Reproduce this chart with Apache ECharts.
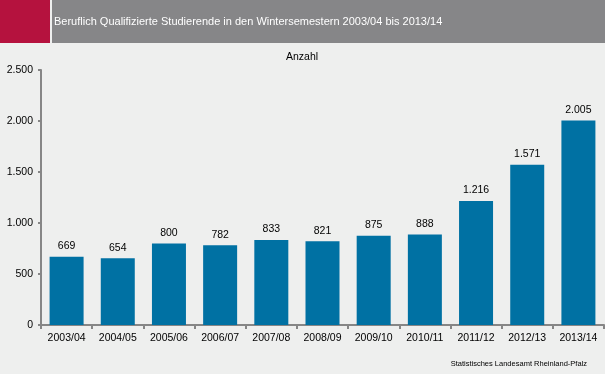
<!DOCTYPE html>
<html><head><meta charset="utf-8">
<script src="https://cdn.jsdelivr.net/npm/echarts@6/dist/echarts.min.js"></script>
<style>html,body{margin:0;padding:0;background:#eeefee;}#c{width:605px;height:374px;}</style>
</head><body><div id="c"></div>
<script>
const categories = ['2003/04','2004/05','2005/06','2006/07','2007/08','2008/09','2009/10','2010/11','2011/12','2012/13','2013/14'];
const values = [669,654,800,782,833,821,875,888,1216,1571,2005];
const titleText = 'Beruflich Qualifizierte Studierende in den Wintersemestern 2003/04 bis 2013/14';
const unitText = 'Anzahl';
const sourceText = 'Statistisches Landesamt Rheinland-Pfalz';
const fmt = v => String(v).replace(/\B(?=(\d{3})+(?!\d))/g, '.');
const chart = echarts.init(document.getElementById('c'), null, {renderer:'canvas'});
const font = 'Liberation Sans, Arial, sans-serif';
chart.setOption({
  backgroundColor: '#eeefee',
  animation: false,
  textStyle: {fontFamily: font},
  grid: {left: 41, right: 1, top: 70, bottom: 49, containLabel: false},
  graphic: [
    {type:'rect', shape:{x:0,y:0,width:50,height:43}, style:{fill:'#b5123e'}},
    {type:'rect', shape:{x:52,y:0,width:553,height:43}, style:{fill:'#868688'}},
    {type:'text', x:54, y:22, style:{text:titleText, fill:'#ffffff', font:'11px '+font, textVerticalAlign:'middle'}},
    {type:'text', x:302, y:57, style:{text:unitText, fill:'#000', font:'10.5px '+font, textAlign:'center', textVerticalAlign:'middle'}},
    {type:'text', x:587, y:364, style:{text:sourceText, fill:'#000', font:'7.5px '+font, textAlign:'right', textVerticalAlign:'middle'}}
  ],
  xAxis: {
    type:'category', data: categories,
    axisLine:{lineStyle:{color:'#868686', width:2}},
    axisTick:{show:true, length:4, lineStyle:{color:'#868686', width:2}},
    axisLabel:{color:'#000', fontSize:10.5, fontFamily:font, margin:8, interval:0}
  },
  yAxis: {
    type:'value', min:0, max:2500, interval:500,
    axisLine:{show:true, lineStyle:{color:'#868686', width:2}},
    axisTick:{show:true, length:3, lineStyle:{color:'#868686', width:2}},
    splitLine:{show:false},
    axisLabel:{color:'#000', fontSize:10.5, fontFamily:font, margin:8, formatter: fmt}
  },
  series: [{
    type:'bar', data: values, barWidth: 34,
    itemStyle:{color:'#0071a3'},
    label:{show:true, position:'top', distance:5, color:'#000', fontSize:10.5, fontFamily:font, formatter: p => fmt(p.value)}
  }]
});
</script></body></html>
